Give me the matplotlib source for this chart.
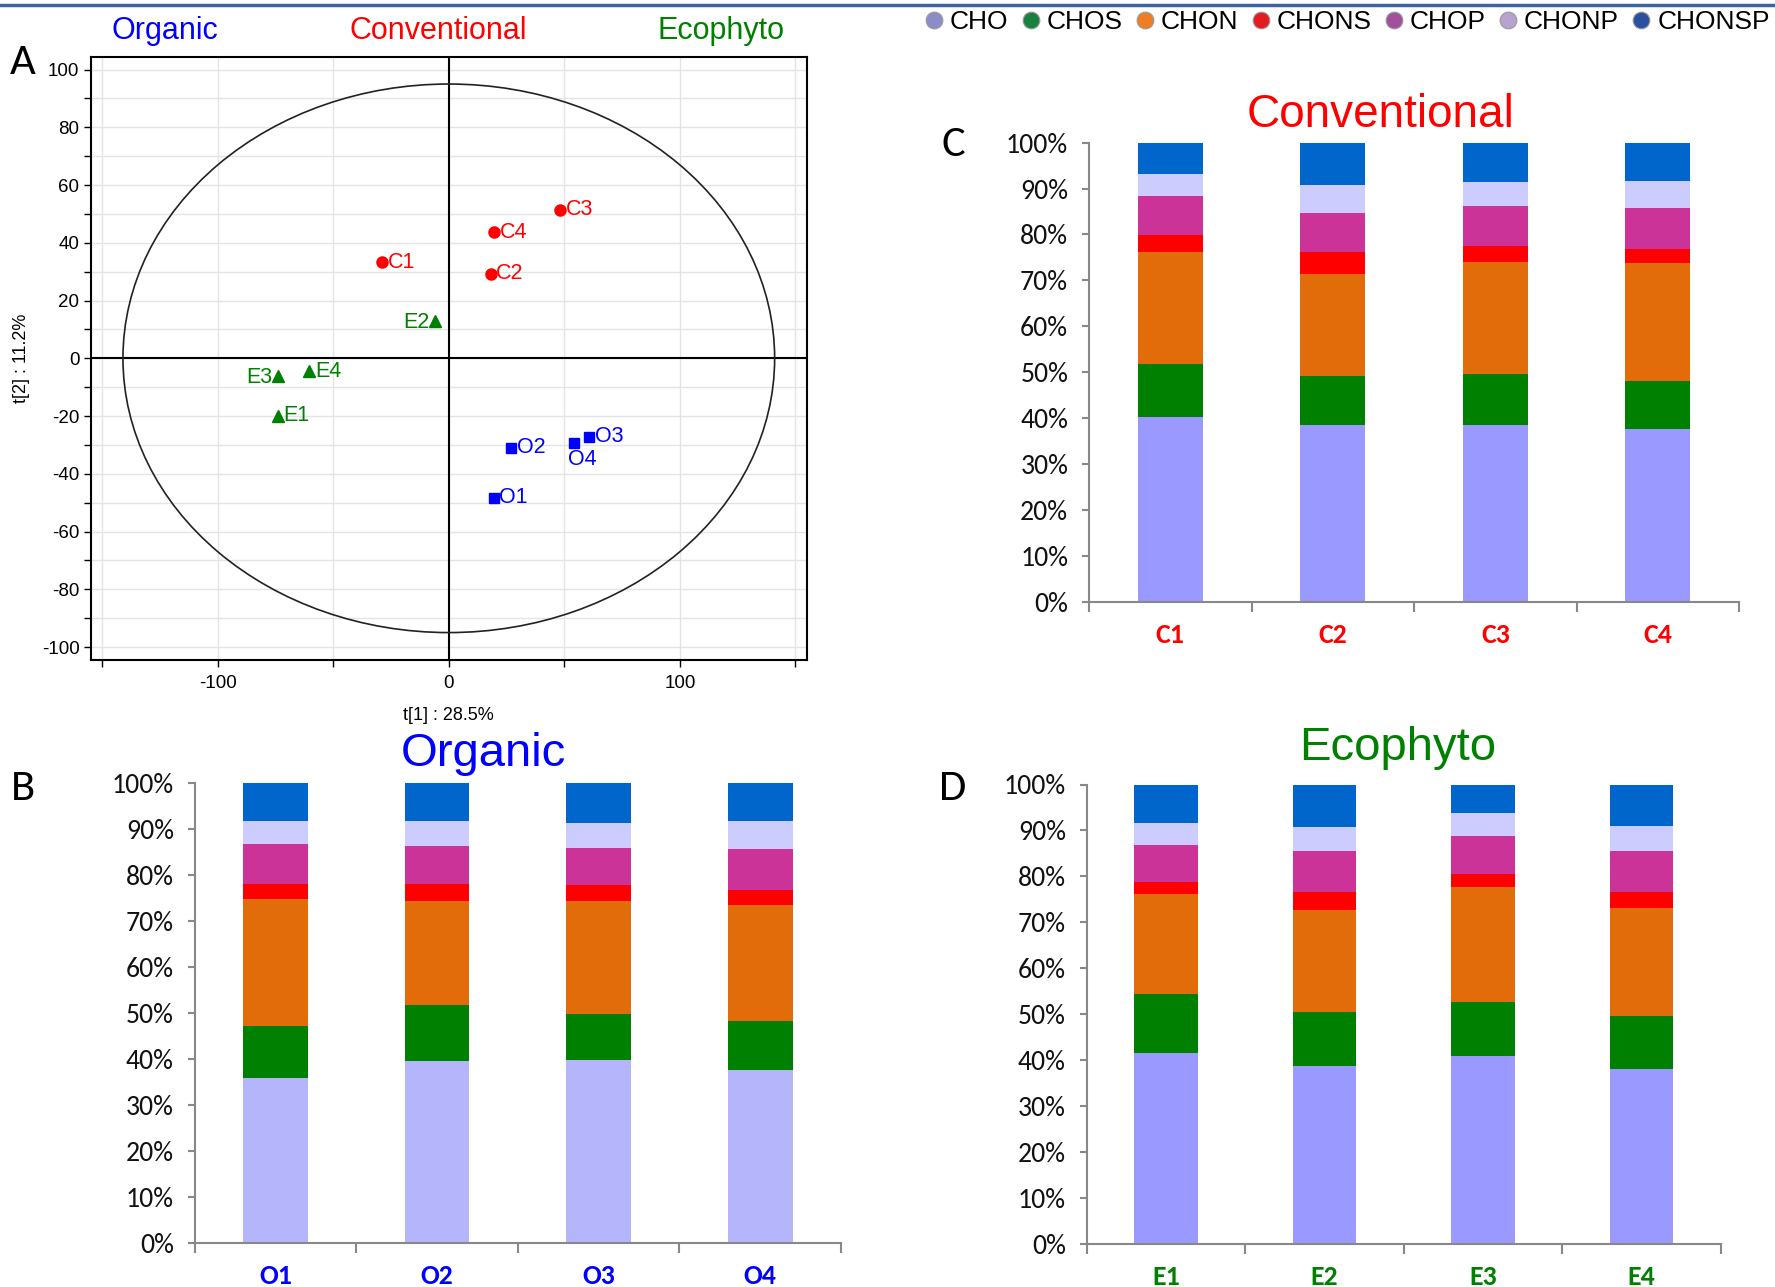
import numpy as np
import matplotlib
matplotlib.use("Agg")
import matplotlib.pyplot as plt
from matplotlib.patches import Ellipse
from matplotlib.lines import Line2D
from matplotlib.ticker import FixedLocator, NullFormatter

plt.rcParams["axes.unicode_minus"] = False

# ---- score plot (panel A) ----
score_names = ["C1", "C2", "C3", "C4", "E1", "E2", "E3", "E4", "O1", "O2", "O3", "O4"]
t1 = [-28.8, 18.1, 48.2, 19.5, -74.1, -6.1, -74.1, -60.3, 19.5, 27.0, 60.7, 54.1]
t2 = [33.2, 29.2, 51.4, 43.6, -19.9, 13.0, -6.3, -4.5, -48.3, -31.0, -27.2, -29.5]
ellipse_a = 141
ellipse_b = 95

# ---- composition bars (panels B, C, D) ----
classes = ["CHO", "CHOS", "CHON", "CHONS", "CHOP", "CHONP", "CHONSP"]

conv_samples = ["C1", "C2", "C3", "C4"]
conv_shares = [
    [40.2, 38.6, 38.6, 37.6],
    [11.5, 10.7, 11.1, 10.5],
    [24.5, 22.0, 24.4, 25.6],
    [3.6, 4.9, 3.5, 3.1],
    [8.5, 8.5, 8.7, 8.9],
    [4.8, 6.1, 5.2, 6.0],
    [6.9, 9.2, 8.5, 8.3],
]

org_samples = ["O1", "O2", "O3", "O4"]
org_shares = [
    [35.8, 39.5, 39.7, 37.6],
    [11.3, 12.2, 10.1, 10.6],
    [27.8, 22.7, 24.5, 25.4],
    [3.1, 3.7, 3.6, 3.2],
    [8.7, 8.2, 8.1, 8.9],
    [5.0, 5.5, 5.4, 6.0],
    [8.3, 8.2, 8.6, 8.3],
]

eco_samples = ["E1", "E2", "E3", "E4"]
eco_shares = [
    [41.5, 38.7, 41.0, 38.0],
    [12.8, 11.7, 11.7, 11.6],
    [21.8, 22.3, 25.0, 23.5],
    [2.6, 3.8, 2.9, 3.4],
    [8.1, 9.1, 8.2, 9.1],
    [4.9, 5.1, 5.1, 5.3],
    [8.3, 9.3, 6.1, 9.1],
]

bar_colors = ["#9999ff", "#008000", "#e36c0a", "#ff0000", "#cc3399", "#ccccff", "#0066cc"]
legend_colors = ["#8c8cc8", "#1a8040", "#ef7d22", "#e31c23", "#a3509c", "#b8a2d0", "#2a50a0"]

BLUE, RED, GREEN = "#0000ff", "#ff0000", "#008000"
SANS = ["Liberation Sans", "DejaVu Sans"]
CALI = ["Carlito", "Lato", "DejaVu Sans"]

W, H = 1775, 1287
fig = plt.figure(figsize=(W / 100, H / 100), dpi=100)


def box(l, t, r, b):
    return [l / W, 1 - b / H, (r - l) / W, (b - t) / H]


def fx(x):
    return x / W


def fy(y):
    return 1 - y / H


# header rule of the page
fig.add_artist(Line2D([0, 1], [fy(5), fy(5)], color="#3c64a0", lw=2.5,
                      transform=fig.transFigure))

# ---------------- panel A ----------------
axA = fig.add_axes(box(90.6, 56.6, 807, 660))
axA.set_xlim(-155, 155)
axA.set_ylim(-104.5, 104.5)
axA.xaxis.set_major_locator(FixedLocator([-100, 0, 100]))
axA.xaxis.set_minor_locator(FixedLocator([-150, -50, 50, 150]))
axA.yaxis.set_major_locator(FixedLocator(np.arange(-100, 101, 20)))
axA.yaxis.set_minor_locator(FixedLocator(np.arange(-90, 91, 20)))
axA.grid(True, which="both", color="#e4e4e4", lw=1.0)
axA.set_axisbelow(True)
for lab in axA.get_xticklabels() + axA.get_yticklabels():
    lab.set_family(SANS)
axA.tick_params(which="both", direction="out", length=5, width=1, labelsize=13.5, pad=3)
axA.tick_params(axis="x", pad=6)
for s in axA.spines.values():
    s.set_linewidth(1.5)
axA.axhline(0, color="black", lw=1.5, zorder=2)
axA.axvline(0, color="black", lw=1.5, zorder=2)
axA.add_patch(Ellipse((0, 0), 2 * ellipse_a, 2 * ellipse_b, fill=False,
                      ec="#222222", lw=1.2, zorder=2))

styles = {"C": (RED, "o", 8), "E": (GREEN, "^", 9), "O": (BLUE, "s", 7)}
label_pos = {"E2": "left", "E3": "left", "O4": "below"}
for name, x, y in zip(score_names, t1, t2):
    col, mk, ms = styles[name[0]]
    axA.plot(x, y, marker=mk, color=col, ms=ms, ls="none", zorder=3)
    where = label_pos.get(name, "right")
    if where == "right":
        axA.annotate(name, (x, y), xytext=(4, 0), textcoords="offset points",
                     ha="left", va="center", color=col, fontsize=15.5, family=SANS)
    elif where == "left":
        axA.annotate(name, (x, y), xytext=(-4, -1), textcoords="offset points",
                     ha="right", va="center", color=col, fontsize=15.5, family=SANS)
    else:
        axA.annotate(name, (x, y), xytext=(-4, -4), textcoords="offset points",
                     ha="left", va="top", color=col, fontsize=15.5, family=SANS)

fig.text(fx(448), fy(716), "t[1] : 28.5%", ha="center", va="center", fontsize=13, family=SANS)
fig.text(fx(22), fy(358), "t[2] : 11.2%", ha="center", va="center", fontsize=13,
         rotation=90, family=SANS)

fig.text(fx(165), fy(31), "Organic", color=BLUE, fontsize=22, ha="center", va="center", family=SANS)
fig.text(fx(438), fy(31), "Conventional", color=RED, fontsize=22, ha="center", va="center", family=SANS)
fig.text(fx(721), fy(31), "Ecophyto", color=GREEN, fontsize=22, ha="center", va="center", family=SANS)

# ---------------- legend ----------------
handles = [Line2D([], [], marker="o", ls="none", ms=12, mfc=c, mec="#999999", mew=0.8)
           for c in legend_colors]
fig.legend(handles, classes, loc="upper right", bbox_to_anchor=(fx(1775), fy(5)),
           ncol=7, frameon=False, handlelength=0.7, handletextpad=0.25,
           columnspacing=0.5, borderaxespad=0, borderpad=0.2,
           prop={"family": SANS, "size": 19})


# ---------------- bar panels ----------------
def bar_panel(ax, samples, shares, label_color, cho_color):
    x = np.arange(1, len(samples) + 1)
    bottom = np.zeros(len(samples))
    for i, vals in enumerate(shares):
        col = cho_color if i == 0 else bar_colors[i]
        ax.bar(x, vals, width=0.4, bottom=bottom, color=col, edgecolor="none")
        bottom += np.array(vals)
    ax.set_xlim(0.5, len(samples) + 0.5)
    ax.set_ylim(0, 100)
    ax.set_yticks(np.arange(0, 101, 10))
    ax.set_yticklabels([f"{v}%" for v in range(0, 101, 10)], family=CALI, fontsize=20, color="#111111")
    ax.set_xticks(x)
    ax.set_xticklabels(samples, family=CALI, fontsize=20, fontweight="bold", color=label_color)
    ax.xaxis.set_minor_locator(FixedLocator(np.arange(0.5, len(samples) + 1, 1.0)))
    ax.xaxis.set_minor_formatter(NullFormatter())
    ax.tick_params(axis="x", which="major", length=0, pad=15)
    ax.tick_params(axis="x", which="minor", length=7, width=1.5, color="#888888", direction="out")
    ax.tick_params(axis="y", length=5, width=1.5, color="#888888", direction="out", pad=10)
    for s in ["top", "right"]:
        ax.spines[s].set_visible(False)
    for s in ["left", "bottom"]:
        ax.spines[s].set_color("#888888")
        ax.spines[s].set_linewidth(1.5)


axC = fig.add_axes(box(1089, 142.6, 1739, 602))
bar_panel(axC, conv_samples, conv_shares, RED, "#9999ff")
axB = fig.add_axes(box(194.7, 783.3, 841, 1243))
bar_panel(axB, org_samples, org_shares, BLUE, "#b5b5fc")
axD = fig.add_axes(box(1086.7, 784.5, 1720.6, 1244))
bar_panel(axD, eco_samples, eco_shares, GREEN, "#9999ff")

fig.text(fx(1381), fy(115), "Conventional", color=RED, fontsize=33, ha="center", va="center", family=SANS)
fig.text(fx(483), fy(754), "Organic", color=BLUE, fontsize=34, ha="center", va="center", family=SANS)
fig.text(fx(1398), fy(748), "Ecophyto", color=GREEN, fontsize=34, ha="center", va="center", family=SANS)

for letter, px, py in [("A", 23, 62), ("B", 23, 789), ("C", 953, 145), ("D", 953, 789)]:
    fig.text(fx(px), fy(py), letter, fontsize=32, ha="center", va="center", family=CALI)

fig.savefig("out.png", dpi=100)
